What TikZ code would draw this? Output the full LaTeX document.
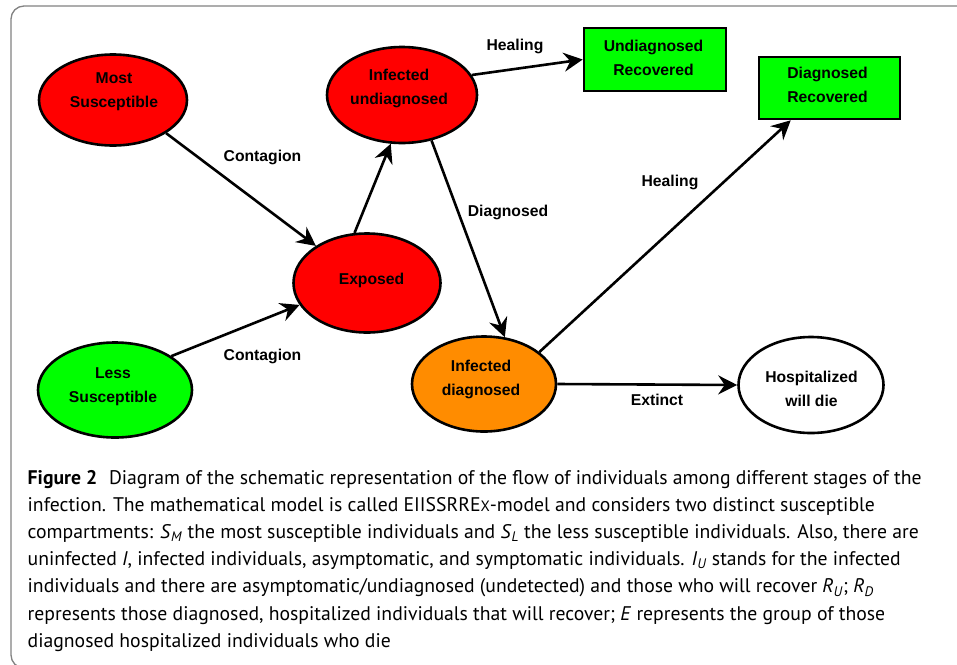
\documentclass[tikz,border=0pt]{standalone}
\usepackage{fontspec}
\setmainfont{Liberation Sans}
\newfontfamily\capfont{PT Sans}
\usetikzlibrary{shapes.geometric,arrows.meta,calc}
\definecolor{nred}{RGB}{255,0,0}
\definecolor{ngreen}{RGB}{0,255,0}
\definecolor{norange}{RGB}{255,140,0}
\definecolor{framegray}{RGB}{130,130,130}
\begin{document}
\begin{tikzpicture}[x=1pt,y=-1pt,
  ell/.style={ellipse,draw=black,line width=2.6pt,inner sep=0pt},
  box/.style={rectangle,draw=black,line width=2.6pt,inner sep=0pt,fill=ngreen},
  txt/.style={font=\fontsize{15.7}{24}\selectfont\bfseries,align=center,inner sep=0pt},
  lbl/.style={font=\fontsize{15.7}{19}\selectfont\bfseries,inner sep=0pt},
  arr/.style={line width=2.6pt,-{Stealth[length=19pt,width=19pt,inset=6.5pt]}},
  capl/.style={font=\capfont\fontsize{19.7}{19.7}\selectfont,anchor=base west,inner sep=0pt}]
\useasboundingbox (0,0) rectangle (957,664);
\fill[white] (0,0) rectangle (957,664);
\draw[framegray,line width=1.3pt,rounded corners=13pt] (990,668) -- (11,668) -- (11,6) -- (990,6);

% nodes
\node[ell,fill=nred,minimum width=148pt,minimum height=91pt] (ms) at (113,100) {};
\node[ell,fill=nred,minimum width=150pt,minimum height=96pt] (iu) at (402,95) {};
\node[box,minimum width=142pt,minimum height=63pt] (ur) at (655,59.5) {};
\node[box,minimum width=141pt,minimum height=62pt] (dr) at (829.5,88) {};
\node[ell,fill=nred,minimum width=147pt,minimum height=99pt] (ex) at (367,283) {};
\node[ell,fill=ngreen,minimum width=154pt,minimum height=95pt] (ls) at (115,390) {};
\node[ell,fill=norange,minimum width=144pt,minimum height=95pt] (id) at (484,384) {};
\node[ell,fill=white,minimum width=145pt,minimum height=96pt] (hd) at (811,385) {};

% texts
\node[txt] (ms-t) at (114,92) {Most\\Susceptible};
\node[txt] (iu-t) at (399,88) {Infected\\undiagnosed};
\node[txt] (ur-t) at (653.5,58) {Undiagnosed\\Recovered};
\node[txt] (dr-t) at (827.5,85) {Diagnosed\\Recovered};
\node[lbl] (ex-t) at (371.5,280.5) {Exposed};
\node[txt] (ls-t) at (113,387) {Less\\Susceptible};
\node[txt] (id-t) at (481,379) {Infected\\diagnosed};
\node[txt] (hd-t) at (811.5,389) {Hospitalized\\will die};

% connectors
\draw[arr] (ms.328) -- (ex.144);
\draw[arr] (ls.31) -- (ex.198);
\draw[arr] (ex.104) -- (iu.257);
\draw[arr] (iu.16) -- (ur.west);
\draw[arr] (iu.303) -- (id.66);
\coordinate (drin) at ($(dr.south west)+(33,0)$);
\draw[arr] (id.30) -- (drin);
\draw[arr] (id.east) -- (hd.west);

% connector labels
\node[lbl] (l-heal1) at (515,46) {Healing};
\node[lbl] (l-cont1) at (262.5,157) {Contagion};
\node[lbl] (l-diag) at (508,212) {Diagnosed};
\node[lbl] (l-heal2) at (670,182) {Healing};
\node[lbl] (l-cont2) at (262.5,356) {Contagion};
\node[lbl] (l-ext) at (657,400) {Extinct};

% caption
\node[capl] (c1) at (27.5,484.5) {\textbf{Figure 2}\hspace{0.6em}Diagram of the schematic representation of the flow of individuals among different stages of the};
\node[capl] (c2) at (27.5,511.6) {infection. The mathematical model is called EIISSRRE{\fontsize{15}{15}\selectfont X}-model and considers two distinct susceptible};
\node[capl] (c3) at (27.5,538.7) {compartments: \textit{S}\textsubscript{\textit{M}} the most susceptible individuals and \textit{S}\textsubscript{\textit{L}} the less susceptible individuals. Also, there are};
\node[capl] (c4) at (27.5,565.8) {uninfected \textit{I}, infected individuals, asymptomatic, and symptomatic individuals. \textit{I}\textsubscript{\textit{U}} stands for the infected};
\node[capl] (c5) at (27.5,592.9) {individuals and there are asymptomatic/undiagnosed (undetected) and those who will recover \textit{R}\textsubscript{\textit{U}}; \textit{R}\textsubscript{\textit{D}}};
\node[capl] (c6) at (27.5,620) {represents those diagnosed, hospitalized individuals that will recover; \textit{E} represents the group of those};
\node[capl] (c7) at (27.5,647.1) {diagnosed hospitalized individuals who die};
\end{tikzpicture}
\end{document}
